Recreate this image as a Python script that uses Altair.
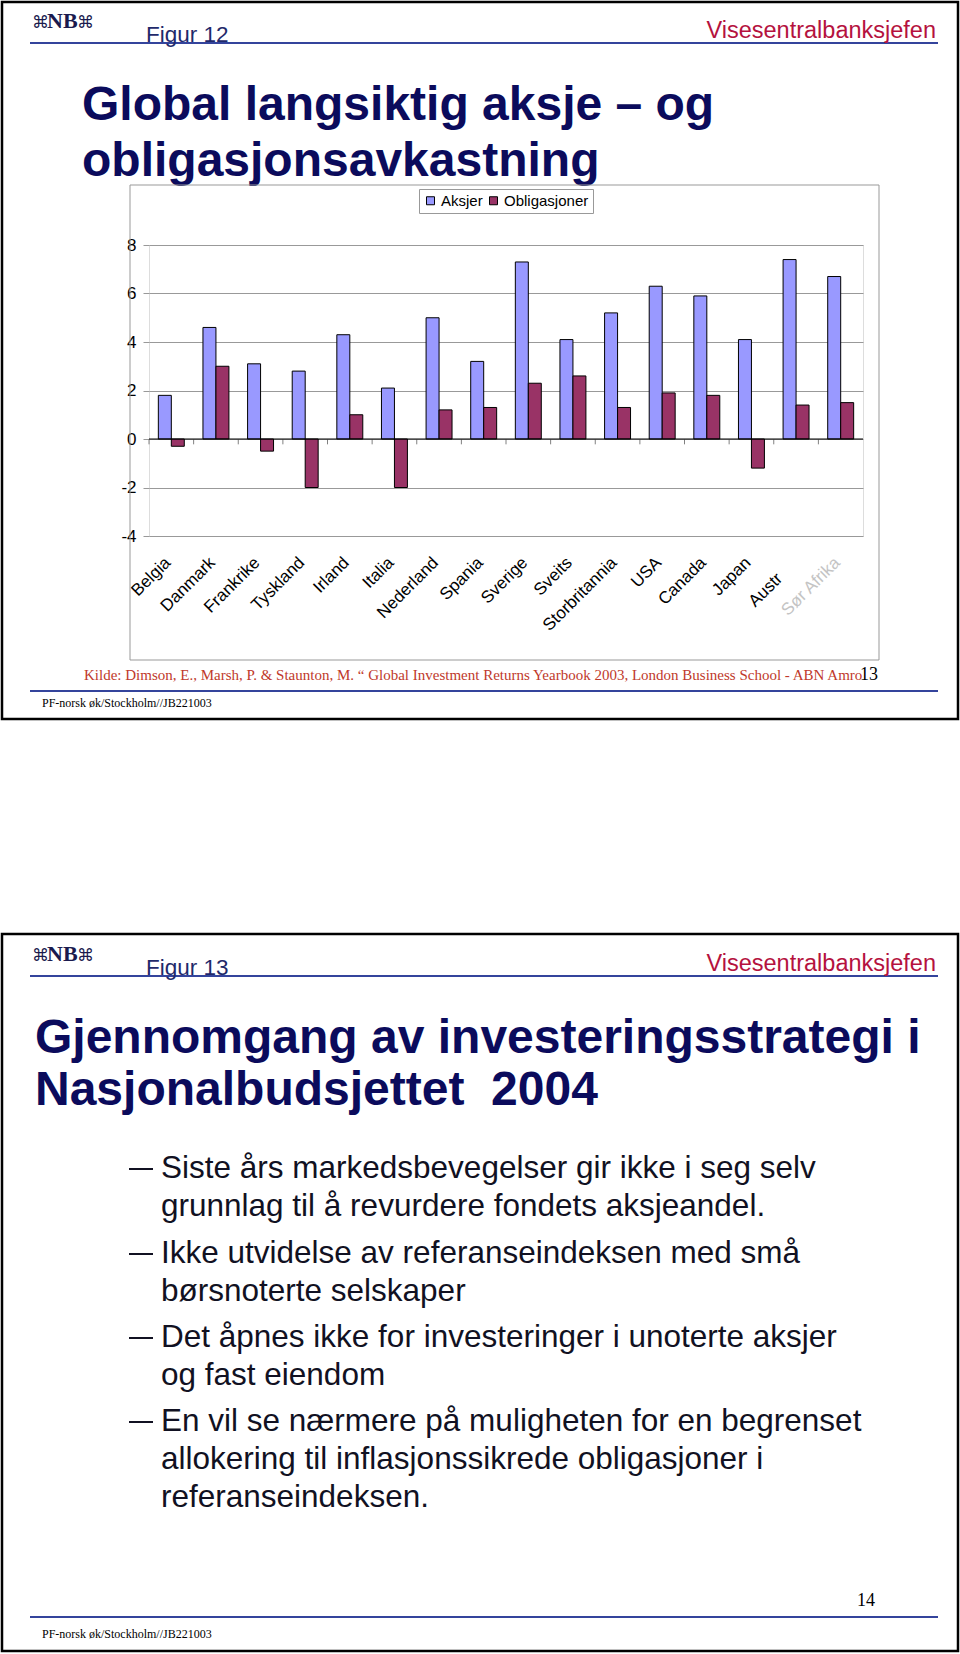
import altair as alt
import pandas as pd

# ---------------- data ----------------
land = ["Belgia", "Danmark", "Frankrike", "Tyskland", "Irland", "Italia", "Nederland",
        "Spania", "Sverige", "Sveits", "Storbritannia", "USA", "Canada", "Japan",
        "Austr", "Sør Afrika"]
aksjer = [1.8, 4.6, 3.1, 2.8, 4.3, 2.1, 5.0, 3.2, 7.3, 4.1, 5.2, 6.3, 5.9, 4.1, 7.4, 6.7]
obligasjoner = [-0.3, 3.0, -0.5, -2.0, 1.0, -2.0, 1.2, 1.3, 2.3, 2.6, 1.3, 1.9, 1.8, -1.2, 1.4, 1.5]
serier = ["Aksjer", "Obligasjoner"]
y_ticks = [-4, -2, 0, 2, 4, 6, 8]

logo_mark = "⌘"
logo_text = "NB"
header_right = "Visesentralbanksjefen"
fig1_label = "Figur 12"
fig1_title = ["Global langsiktig aksje – og", "obligasjonsavkastning"]
kilde = ("Kilde: Dimson, E., Marsh, P. & Staunton, M. \u201c Global Investment Returns "
         "Yearbook 2003, London Business School - ABN Amro")
page1 = "13"
footer = "PF-norsk øk/Stockholm//JB221003"
fig2_label = "Figur 13"
fig2_title = ["Gjennomgang av investeringsstrategi i", "Nasjonalbudsjettet\u00a0\u00a02004"]
bullets = [
    ["Siste års markedsbevegelser gir ikke i seg selv",
     "grunnlag til å revurdere fondets aksjeandel."],
    ["Ikke utvidelse av referanseindeksen med små",
     "børsnoterte selskaper"],
    ["Det åpnes ikke for investeringer i unoterte aksjer",
     "og fast eiendom"],
    ["En vil se nærmere på muligheten for en begrenset",
     "allokering til inflasjonssikrede obligasjoner i",
     "referanseindeksen."],
]
page2 = "14"

df = pd.DataFrame({
    "Land": land * 2,
    "Serie": [serier[0]] * len(land) + [serier[1]] * len(land),
    "Verdi": aksjer + obligasjoner,
})

# ---------------- layout helpers ----------------
W, H = 960, 1654
OX, OY = 149, 245          # plot origin on page
PW, PH = 714, 291          # plot size

def px(x):
    return x - OX

def py(y):
    return y - OY

one = pd.DataFrame({"k": [0]})
SANS = "Liberation Sans"
SERIF = "Liberation Serif"


def txt(s, x, y, size, color, font=SANS, weight="normal", align="left"):
    return alt.Chart(pd.DataFrame({"t": [s]})).mark_text(
        align=align, baseline="alphabetic", fontSize=size, font=font,
        fontWeight=weight, color=color
    ).encode(text="t:N", x=alt.value(px(x)), y=alt.value(py(y)))


def box(x1, y1, x2, y2, color, sw):
    return alt.Chart(one).mark_rect(fill="transparent", stroke=color, strokeWidth=sw).encode(
        x=alt.value(px(x1)), x2=alt.value(px(x2)), y=alt.value(py(y1)), y2=alt.value(py(y2)))


def hline(x1, x2, y, color, sw):
    return alt.Chart(one).mark_rule(color=color, strokeWidth=sw).encode(
        x=alt.value(px(x1)), x2=alt.value(px(x2)), y=alt.value(py(y)))


NAVY = "#0b0b5c"
BLUE_LINE = "#34449c"
CRIMSON = "#b5123e"
FIG = "#1f2a6b"
LOGO = "#1a1a4e"

layers = []

# slide frames
layers.append(box(2, 2, 958, 719, "black", 2.5))
layers.append(box(2, 934, 958, 1651, "black", 2.5))


def header(y_base, label):
    out = []
    out.append(txt(logo_mark, 32, y_base - 14, 17, LOGO, font="DejaVu Sans"))
    out.append(txt(logo_text, 47, y_base - 14, 22, LOGO, font=SERIF, weight="bold"))
    out.append(txt(logo_mark, 77, y_base - 14, 17, LOGO, font="DejaVu Sans"))
    out.append(hline(30, 938, y_base + 1, BLUE_LINE, 2))
    out.append(txt(label, 146, y_base, 22.5, FIG))
    out.append(txt(header_right, 936, y_base - 4, 23.5, CRIMSON, align="right"))
    return out


layers += header(42, fig1_label)
layers += header(975, fig2_label)

# slide 1 title
layers.append(txt(fig1_title[0], 82, 120, 48, NAVY, weight="bold"))
layers.append(txt(fig1_title[1], 82, 176, 48, NAVY, weight="bold"))

# chart outer box
layers.append(box(130, 185, 879, 660, "#999999", 1))

# bars
is_austr = "datum.value === 'Austr'"
bars = alt.Chart(df).mark_bar(stroke="black", strokeWidth=1).encode(
    x=alt.X("Land:N", sort=land,
            scale=alt.Scale(paddingInner=0, paddingOuter=0),
            axis=alt.Axis(title=None, labelAngle=-45, labelAlign="right", labelBaseline="top",
                          labelFontSize=17, labelFont=SANS,
                          labelPadding={"condition": {"test": is_austr, "value": 34}, "value": 18},
                          labelOffset={"condition": {"test": is_austr, "value": -22}, "value": -9},
                          labelColor={"condition": {"test": "datum.value === 'Sør Afrika'",
                                                    "value": "#c4c4c4"},
                                      "value": "black"},
                          ticks=False, domain=False, grid=False, labelLimit=300)),
    xOffset=alt.XOffset("Serie:N", sort=serier,
                        scale=alt.Scale(paddingInner=0, paddingOuter=0.72)),
    y=alt.Y("Verdi:Q",
            scale=alt.Scale(domain=[-4, 8], nice=False, zero=False),
            axis=alt.Axis(title=None, values=y_ticks, labelFontSize=17, labelFont=SANS,
                          labelColor="black", labelExpr="'' + datum.value",
                          grid=True, gridColor="#999999",
                          tickColor="#999999", tickSize=6, domain=False, labelPadding=7)),
    color=alt.Color("Serie:N", sort=serier,
                    scale=alt.Scale(domain=serier, range=["#9999ff", "#993366"]),
                    legend=alt.Legend(orient="none", legendX=270, legendY=-56,
                                      direction="horizontal", title=None,
                                      symbolType="square", symbolSize=64,
                                      symbolStrokeColor="black", symbolStrokeWidth=1,
                                      labelFontSize=15, labelFont=SANS, labelColor="black",
                                      strokeColor="#999999", fillColor="white",
                                      padding=4, columnPadding=3, labelOffset=3)),
)
layers.append(bars)

# zero line and category ticks
zero = alt.Chart(one).mark_rule(color="black", strokeWidth=1).encode(y=alt.Y(datum=0))
ticks = alt.Chart(pd.DataFrame({"Land": land})).mark_rule(color="#808080", strokeWidth=1).encode(
    x=alt.X("Land:N", sort=land, bandPosition=0),
    y=alt.Y(datum=0),
    y2=alt.Y2(datum=-0.22),
)
layers.append(ticks)
layers.append(zero)

# source line
layers.append(txt(kilde, 84, 680, 15, "#c0392b", font=SERIF))
layers.append(txt(page1, 860, 680, 18, "black", font=SERIF))
layers.append(hline(30, 938, 691, BLUE_LINE, 2))
layers.append(txt(footer, 42, 707, 12, "black", font=SERIF))

# slide 2 title
layers.append(txt(fig2_title[0], 35, 1053, 48, NAVY, weight="bold"))
layers.append(txt(fig2_title[1], 35, 1105, 48, NAVY, weight="bold"))

# bullets
first_baselines = [1178, 1263, 1347, 1431]
for item, yb in zip(bullets, first_baselines):
    layers.append(hline(129, 153, yb - 9, "#111122", 2))
    for i, line in enumerate(item):
        layers.append(txt(line, 161, yb + 38 * i, 31.5, "#111122"))

layers.append(txt(page2, 857, 1606, 18, "black", font=SERIF))
layers.append(hline(30, 938, 1617, BLUE_LINE, 2))
layers.append(txt(footer, 42, 1638, 12, "black", font=SERIF))

chart = alt.layer(*layers).properties(
    width=PW, height=PH,
    padding={"left": OX, "top": OY, "right": W - OX - PW, "bottom": H - OY - PH},
    autosize=alt.AutoSizeParams(type="none"),
).configure_view(stroke="#808080", strokeWidth=1).configure(background="white")

chart.save("out.html", embed_options={"renderer": "svg", "actions": False})
